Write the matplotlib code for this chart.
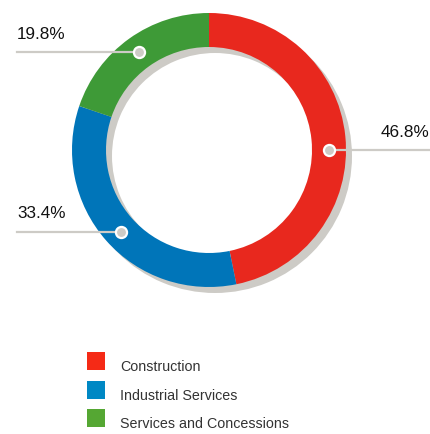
import numpy as np
import matplotlib
matplotlib.use("Agg")
import matplotlib.pyplot as plt
from matplotlib.patches import Rectangle

# data
categories = ["Construction", "Industrial Services", "Services and Concessions"]
shares = [46.8, 33.4, 19.8]
labels = ["46.8%", "33.4%", "19.8%"]
colors = ["#e8281e", "#0075b9", "#3e9a37"]
legend_colors = ["#f52a16", "#0088c4", "#55a733"]
# hand nudge of the leader dot along the ring (degrees)
dot_shift = [-5.8, 1.5, 0.0]

SHADOW = "#cdcbc6"
H = 435

fig = plt.figure(figsize=(4.30, 4.35), dpi=100)
ax = fig.add_axes([0, 0, 1, 1])

cx, cy = 209, H - 151
r_out, width = 137, 34

# shadow ring, offset down-right
ax.pie([1], colors=[SHADOW], radius=r_out, center=(cx + 6, cy - 6),
       wedgeprops=dict(width=width, linewidth=0), frame=True)
wedges, _ = ax.pie(shares, colors=colors, radius=r_out, center=(cx, cy),
                   startangle=90, counterclock=False,
                   wedgeprops=dict(width=width, linewidth=0), frame=True)
ax.set_xlim(0, 430)
ax.set_ylim(0, H)
ax.set_aspect("equal")
ax.axis("off")

# leader lines and dots
r_mid = r_out - width / 2
fam = ["Liberation Sans Narrow", "Liberation Sans"]
for w, lab, sh in zip(wedges, labels, dot_shift):
    ang = np.radians((w.theta1 + w.theta2) / 2 + sh)
    dx = cx + r_mid * np.cos(ang)
    dy = cy + r_mid * np.sin(ang)
    if np.cos(ang) >= 0:
        ax.plot([dx, 430], [dy, dy], color=SHADOW, lw=1.6, zorder=5)
        ax.text(429, dy + 19, lab, ha="right", va="center", fontsize=12.3,
                family=fam, color="#111111", zorder=6)
    else:
        ax.plot([17, dx], [dy, dy], color=SHADOW, lw=1.6, zorder=5)
        ax.text(17, dy + 19, lab, ha="left", va="center", fontsize=12.3,
                family=fam, color="#111111", zorder=6)
    ax.plot(dx, dy, marker="o", markersize=8, markerfacecolor=SHADOW,
            markeredgecolor="white", markeredgewidth=1.6, zorder=7)

# legend
for i, (cat, c) in enumerate(zip(categories, legend_colors)):
    ytop = 353 + i * 28.7
    ax.add_patch(Rectangle((87, H - ytop - 18), 18, 18, color=c, lw=0))
    ax.text(120, H - ytop - 14, cat, ha="left", va="center", fontsize=10.3,
            family="Liberation Sans", color="#333333")

fig.savefig("out.png", dpi=100)
